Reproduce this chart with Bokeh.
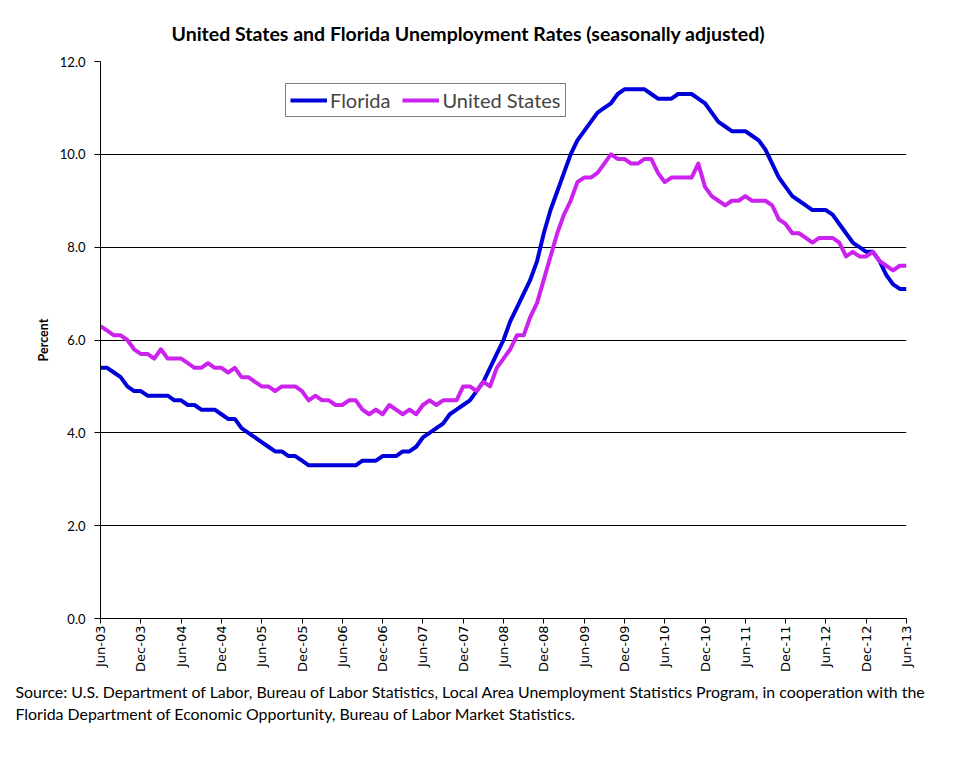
import math
from bokeh.plotting import figure
from bokeh.models import Range1d, FixedTicker, Legend, LegendItem, Title, NumeralTickFormatter
from bokeh.embed import file_html
from bokeh.resources import INLINE

# ---- data (monthly, Jun-03 .. Jun-13) ----
tick_labels = ["Jun-03", "Dec-03", "Jun-04", "Dec-04", "Jun-05", "Dec-05", "Jun-06",
               "Dec-06", "Jun-07", "Dec-07", "Jun-08", "Dec-08", "Jun-09", "Dec-09",
               "Jun-10", "Dec-10", "Jun-11", "Dec-11", "Jun-12", "Dec-12", "Jun-13"]

florida = [
    5.4, 5.4, 5.3, 5.2, 5.0, 4.9, 4.9,                                   # Jun-Dec 03
    4.8, 4.8, 4.8, 4.8, 4.7, 4.7, 4.6, 4.6, 4.5, 4.5, 4.5, 4.4,          # 2004
    4.3, 4.3, 4.1, 4.0, 3.9, 3.8, 3.7, 3.6, 3.6, 3.5, 3.5, 3.4,          # 2005
    3.3, 3.3, 3.3, 3.3, 3.3, 3.3, 3.3, 3.3, 3.4, 3.4, 3.4, 3.5,          # 2006
    3.5, 3.5, 3.6, 3.6, 3.7, 3.9, 4.0, 4.1, 4.2, 4.4, 4.5, 4.6,          # 2007
    4.7, 4.9, 5.1, 5.4, 5.7, 6.0, 6.4, 6.7, 7.0, 7.3, 7.7, 8.3,          # 2008
    8.8, 9.2, 9.6, 10.0, 10.3, 10.5, 10.7, 10.9, 11.0, 11.1, 11.3, 11.4, # 2009
    11.4, 11.4, 11.4, 11.3, 11.2, 11.2, 11.2, 11.3, 11.3, 11.3, 11.2, 11.1,  # 2010
    10.9, 10.7, 10.6, 10.5, 10.5, 10.5, 10.4, 10.3, 10.1, 9.8, 9.5, 9.3, # 2011
    9.1, 9.0, 8.9, 8.8, 8.8, 8.8, 8.7, 8.5, 8.3, 8.1, 8.0, 7.9,          # 2012
    7.9, 7.7, 7.4, 7.2, 7.1, 7.1,                                        # Jan-Jun 13
]

united_states = [
    6.3, 6.2, 6.1, 6.1, 6.0, 5.8, 5.7,
    5.7, 5.6, 5.8, 5.6, 5.6, 5.6, 5.5, 5.4, 5.4, 5.5, 5.4, 5.4,
    5.3, 5.4, 5.2, 5.2, 5.1, 5.0, 5.0, 4.9, 5.0, 5.0, 5.0, 4.9,
    4.7, 4.8, 4.7, 4.7, 4.6, 4.6, 4.7, 4.7, 4.5, 4.4, 4.5, 4.4,
    4.6, 4.5, 4.4, 4.5, 4.4, 4.6, 4.7, 4.6, 4.7, 4.7, 4.7, 5.0,
    5.0, 4.9, 5.1, 5.0, 5.4, 5.6, 5.8, 6.1, 6.1, 6.5, 6.8, 7.3,
    7.8, 8.3, 8.7, 9.0, 9.4, 9.5, 9.5, 9.6, 9.8, 10.0, 9.9, 9.9,
    9.8, 9.8, 9.9, 9.9, 9.6, 9.4, 9.5, 9.5, 9.5, 9.5, 9.8, 9.3,
    9.1, 9.0, 8.9, 9.0, 9.0, 9.1, 9.0, 9.0, 9.0, 8.9, 8.6, 8.5,
    8.3, 8.3, 8.2, 8.1, 8.2, 8.2, 8.2, 8.1, 7.8, 7.9, 7.8, 7.8,
    7.9, 7.7, 7.6, 7.5, 7.6, 7.6,
]

y_ticks = [0, 2, 4, 6, 8, 10, 12]

source_lines = [
    "Source:  U.S. Department of Labor, Bureau of Labor Statistics, Local Area Unemployment Statistics Program, in cooperation with the",
    "Florida Department of Economic Opportunity, Bureau of Labor Market Statistics.",
]

assert len(florida) == len(united_states) == 121
months = list(range(len(florida)))
x_ticks = list(range(0, len(months), 6))

FONT = "Lato"

p = figure(width=960, height=741, output_backend="svg", toolbar_location=None,
           x_range=Range1d(0, months[-1]), y_range=Range1d(y_ticks[0], y_ticks[-1]),
           min_border_left=100, min_border_right=54, min_border_top=61, min_border_bottom=123)
p.outline_line_color = None
p.background_fill_color = "white"
p.border_fill_color = "white"

# title
p.title.text = "United States and Florida Unemployment Rates (seasonally adjusted)"
p.title.align = "left"
p.title.offset = 71
p.title.standoff = 34
p.title.text_font = FONT
p.title.text_font_size = "19.5px"
p.title.text_font_style = "bold"
p.title.text_color = "black"

# axes
xa = p.xaxis[0]
xa.ticker = FixedTicker(ticks=x_ticks)
xa.major_label_overrides = {t: lab for t, lab in zip(x_ticks, tick_labels)}
xa.major_label_orientation = math.pi / 2
xa.major_label_text_font = "DejaVu Sans"
xa.major_label_text_font_size = "13px"
xa.major_label_text_color = "black"
xa.major_label_standoff = 2
xa.major_tick_in = 0
xa.major_tick_out = 5
xa.minor_tick_line_color = None
xa.axis_line_color = "black"
xa.major_tick_line_color = "black"

ya = p.yaxis[0]
ya.ticker = FixedTicker(ticks=y_ticks)
ya.formatter = NumeralTickFormatter(format="0.0")
ya.major_label_text_font = FONT
ya.major_label_text_font_size = "13px"
ya.major_label_text_color = "black"
ya.major_label_standoff = 9
ya.major_tick_in = 0
ya.major_tick_out = 6
ya.minor_tick_line_color = None
ya.axis_line_color = "black"
ya.major_tick_line_color = "black"
ya.axis_label = "Percent"
ya.axis_label_text_font = FONT
ya.axis_label_text_font_size = "12.5px"
ya.axis_label_text_font_style = "bold"
ya.axis_label_text_color = "black"
ya.axis_label_standoff = 6

p.xgrid.visible = False
p.ygrid.ticker = FixedTicker(ticks=y_ticks)
p.ygrid.grid_line_color = "black"
p.ygrid.grid_line_width = 1

# lines
r_fl = p.line(months, florida, line_color="#0000D8", line_width=4, line_join="round")
r_us = p.line(months, united_states, line_color="#CC22EE", line_width=4, line_join="round")

legend = Legend(items=[LegendItem(label="Florida", renderers=[r_fl]),
                       LegendItem(label="United States", renderers=[r_us])],
                orientation="horizontal", location=(185, 501),
                border_line_color="black", border_line_width=1,
                label_text_font=FONT, label_text_font_size="20px",
                glyph_width=37, glyph_height=20, label_standoff=3,
                spacing=12, padding=4, margin=0)
p.add_layout(legend)

# source note
src = Title(text="\n".join(source_lines),
            align="left", offset=-85, standoff=12, text_font=FONT, text_font_size="15.9px",
            text_font_style="normal", text_color="black", text_line_height=1.18)
p.add_layout(src, "below")

open("out.html", "w").write(file_html(p, INLINE))
